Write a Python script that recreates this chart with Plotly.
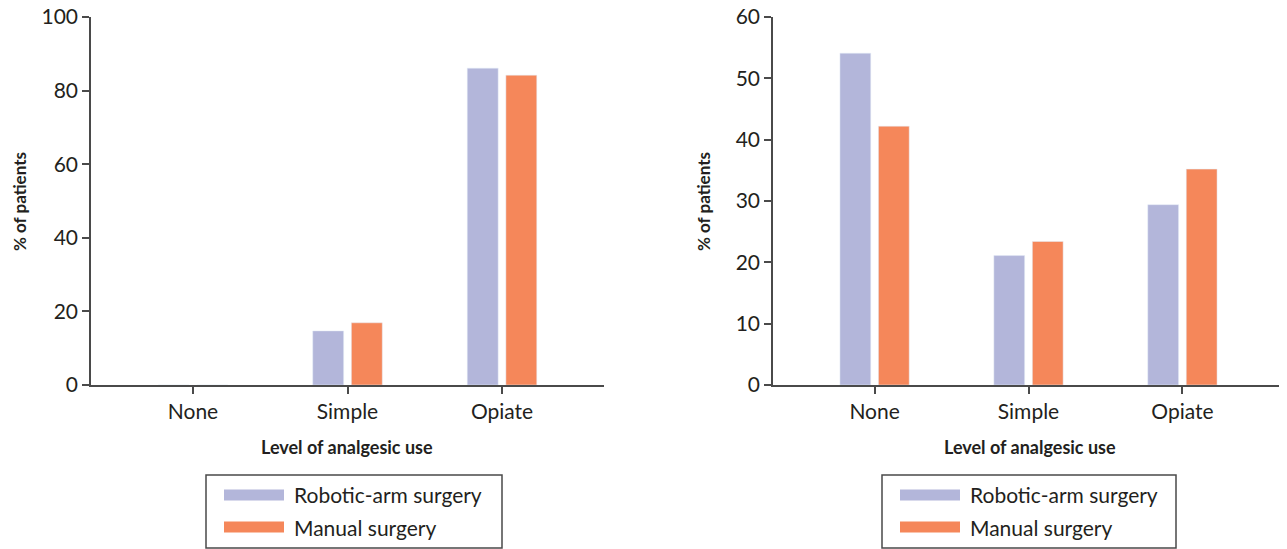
import plotly.graph_objects as go

categories = ["None", "Simple", "Opiate"]
left_robotic = [0, 14.7, 86.1]
left_manual = [0, 16.9, 84.2]
right_robotic = [54.1, 21.1, 29.4]
right_manual = [42.2, 23.4, 35.2]
left_yticks = [0, 20, 40, 60, 80, 100]
right_yticks = [0, 10, 20, 30, 40, 50, 60]
series_names = ["Robotic-arm surgery", "Manual surgery"]

C_ROB = "#b3b6da"
C_MAN = "#f5875a"
TXT = "#231f20"
AX = "#4a4a4a"
FONT = "Lato"

# page has an 8px body margin; work in page pixel coordinates
OFF = 8
W, H = 1287 - OFF, 549 - OFF
PL, PR, PT, PB = 91, 1284, 17, 385  # plot area in page pixels
ML, MT = PL - OFF, PT - OFF
MR = W - (PR - OFF)
MB = H - (PB - OFF)
PW = PR - PL
PH = PB - PT


def px(x):
    return (x - PL) / PW


def py(y):
    return (PB - y) / PH


fig = go.Figure()
fig.add_trace(go.Bar(x=categories, y=left_robotic, marker_color=C_ROB, name=series_names[0],
                     xaxis="x", yaxis="y", showlegend=False))
fig.add_trace(go.Bar(x=categories, y=left_manual, marker_color=C_MAN, name=series_names[1],
                     xaxis="x", yaxis="y", showlegend=False))
fig.add_trace(go.Bar(x=categories, y=right_robotic, marker_color=C_ROB, name=series_names[0],
                     xaxis="x2", yaxis="y2", showlegend=False))
fig.add_trace(go.Bar(x=categories, y=right_manual, marker_color=C_MAN, name=series_names[1],
                     xaxis="x2", yaxis="y2", showlegend=False))

xcommon = dict(type="category", range=[-0.66, 2.66], showline=True, linecolor=AX, linewidth=1.5,
               ticks="outside", ticklen=7, tickcolor=AX, tickwidth=1.5,
               tickfont=dict(family=FONT, size=21, color=TXT), showgrid=False, zeroline=False,
               fixedrange=True, ticklabeloverflow="allow", automargin=False)
ycommon = dict(showline=True, linecolor=AX, linewidth=1.5, ticks="outside", ticklen=7,
               tickcolor=AX, tickwidth=1.5, tickfont=dict(family=FONT, size=21, color=TXT),
               showgrid=False, zeroline=False, fixedrange=True, ticklabeloverflow="allow",
               automargin=False)

fig.update_layout(
    width=W, height=H,
    margin=dict(l=ML, r=MR, t=MT, b=MB, pad=0, autoexpand=False),
    paper_bgcolor="white", plot_bgcolor="white",
    barmode="group", bargap=0.5, bargroupgap=0.2,
    showlegend=False,
    xaxis=dict(domain=[0, px(604)], anchor="y", **xcommon),
    yaxis=dict(domain=[0, 1], anchor="x", range=[0, 100], tickvals=left_yticks, **ycommon),
    xaxis2=dict(domain=[px(773), 1], anchor="y2", **xcommon),
    yaxis2=dict(domain=[0, 1], anchor="x2", range=[0, 60], tickvals=right_yticks, **ycommon),
)

annotations = []
shapes = []
for (ytx, xtx, lbox, rbox, swl, swr, txtx) in [
    (19, 347, 206, 502, 224, 284, 292),
    (703, 1030, 882, 1176, 900, 960, 968),
]:
    annotations.append(dict(text="<b>% of patients</b>", x=px(ytx), y=py(202), xref="paper", yref="paper",
                            textangle=-90, showarrow=False, xanchor="center", yanchor="middle",
                            font=dict(family=FONT, size=17, color=TXT)))
    annotations.append(dict(text="<b>Level of analgesic use</b>", x=px(xtx), y=py(447), xref="paper",
                            yref="paper", showarrow=False, xanchor="center", yanchor="middle",
                            font=dict(family=FONT, size=18, color=TXT)))
    shapes.append(dict(type="rect", xref="paper", yref="paper", x0=px(lbox), x1=px(rbox),
                       y0=py(475), y1=py(548), line=dict(color=AX, width=1.5), fillcolor="white",
                       layer="below"))
    for name, col, cy in [(series_names[0], C_ROB, 495), (series_names[1], C_MAN, 527)]:
        shapes.append(dict(type="rect", xref="paper", yref="paper", x0=px(swl), x1=px(swr),
                           y0=py(cy + 5.5), y1=py(cy - 5.5), line=dict(width=0), fillcolor=col))
        annotations.append(dict(text=name, x=px(txtx), y=py(cy), xref="paper", yref="paper",
                                showarrow=False, xanchor="left", yanchor="middle",
                                font=dict(family=FONT, size=21, color=TXT)))

fig.update_layout(annotations=annotations, shapes=shapes)
fig.write_html("out.html")
